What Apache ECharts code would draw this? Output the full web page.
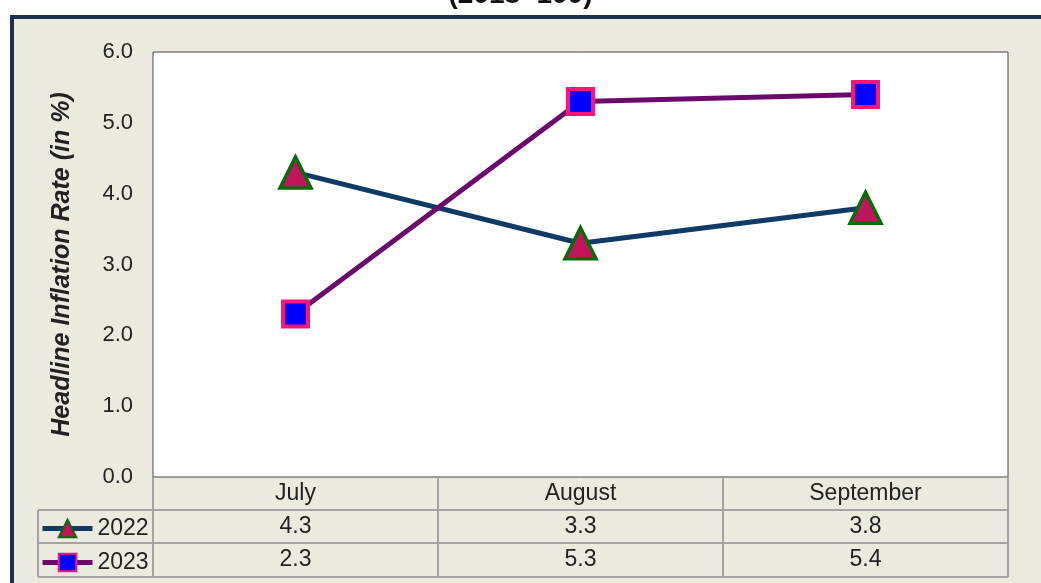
<!DOCTYPE html>
<html>
<head>
<meta charset="utf-8">
<script src="https://cdn.jsdelivr.net/npm/echarts@6/dist/echarts.min.js"></script>
<style>
  html, body { margin: 0; padding: 0; background: #fff; overflow: hidden; }
  #frame {
    position: absolute; left: 10px; top: 15px; width: 1060px; height: 600px;
    border: 4px solid #1c3050; background: #ecE9df;
  }
  #chart { position: absolute; left: 0; top: 0; width: 1041px; height: 583px; }
</style>
</head>
<body>
<div id="frame"></div>
<div id="chart"></div>
<script>
// 数据
const months = ['July', 'August', 'September']
const rate2022 = [4.3, 3.3, 3.8]
const rate2023 = [2.3, 5.3, 5.4]
const yTicks = { min: 0, max: 6, step: 1 }

const FONT = '"Liberation Sans", Arial, sans-serif'
const TEXT = '#222'
const TABLE_LINE = '#a3a3a3'

// 表格行（数值行）
function valueRow(values, offset) {
  return {
    type: 'category',
    data: months,
    position: 'bottom',
    offset: offset,
    axisLine: { show: false },
    axisTick: { show: false },
    axisLabel: {
      margin: 5,
      fontSize: 23,
      fontFamily: FONT,
      color: TEXT,
      formatter: (v, i) => values[i].toFixed(1)
    }
  }
}

function hLine(x1, x2, y) {
  return {
    type: 'line',
    shape: { x1: x1, y1: y, x2: x2, y2: y },
    style: { stroke: TABLE_LINE, lineWidth: 2 },
    z: 10
  }
}

const chart = echarts.init(document.getElementById('chart'))

chart.setOption({
  animation: false,
  title: {
    text: '(2018=100)',
    left: 'center',
    top: -24,
    textStyle: { fontSize: 28, fontWeight: 'bold', fontFamily: FONT, color: '#111' }
  },
  grid: {
    left: 153, top: 52, width: 855, height: 425,
    show: true,
    backgroundColor: '#fff',
    borderColor: '#444',
    borderWidth: 1
  },
  legend: {
    orient: 'vertical',
    left: 40,
    top: 517,
    padding: 0,
    itemWidth: 50,
    itemHeight: 22,
    itemGap: 11,
    itemTextGap: 3,
    lineStyle: { width: 5 },
    textStyle: { fontSize: 23, fontFamily: FONT, color: TEXT },
    data: ['2022', '2023']
  },
  xAxis: [
    {
      type: 'category',
      data: months,
      boundaryGap: true,
      axisLine: { show: false },
      axisTick: {
        show: true,
        inside: false,
        length: 100,
        lineStyle: { color: TABLE_LINE, width: 2 }
      },
      axisLabel: { margin: 5, fontSize: 23, fontFamily: FONT, color: TEXT }
    },
    valueRow(rate2022, 33),
    valueRow(rate2023, 66)
  ],
  yAxis: {
    type: 'value',
    min: yTicks.min,
    max: yTicks.max,
    interval: yTicks.step,
    name: 'Headline Inflation Rate (in %)',
    nameLocation: 'middle',
    nameGap: 78,
    nameTextStyle: {
      fontSize: 25, fontWeight: 'bold', fontStyle: 'italic', fontFamily: FONT, color: TEXT
    },
    axisLine: { show: false },
    axisTick: { show: false },
    splitLine: { show: false },
    axisLabel: {
      margin: 20,
      fontSize: 22,
      fontFamily: FONT,
      color: TEXT,
      formatter: v => v.toFixed(1)
    }
  },
  series: [
    {
      name: '2022',
      type: 'line',
      data: rate2022,
      symbol: 'triangle',
      symbolSize: 31,
      lineStyle: { color: '#0d3b66', width: 5 },
      itemStyle: { color: '#c2145c', borderColor: '#0a6a0a', borderWidth: 3.5 },
      z: 3
    },
    {
      name: '2023',
      type: 'line',
      data: rate2023,
      symbol: 'rect',
      symbolSize: 25,
      lineStyle: { color: '#6b0a6b', width: 5 },
      itemStyle: { color: '#0000ff', borderColor: '#ff1577', borderWidth: 4 },
      z: 4
    }
  ],
  graphic: [
    hLine(38, 1008, 510),
    hLine(38, 1008, 543),
    hLine(38, 1008, 577),
    {
      type: 'line',
      shape: { x1: 38, y1: 510, x2: 38, y2: 577 },
      style: { stroke: TABLE_LINE, lineWidth: 2 },
      z: 10
    }
  ]
})
</script>
</body>
</html>
